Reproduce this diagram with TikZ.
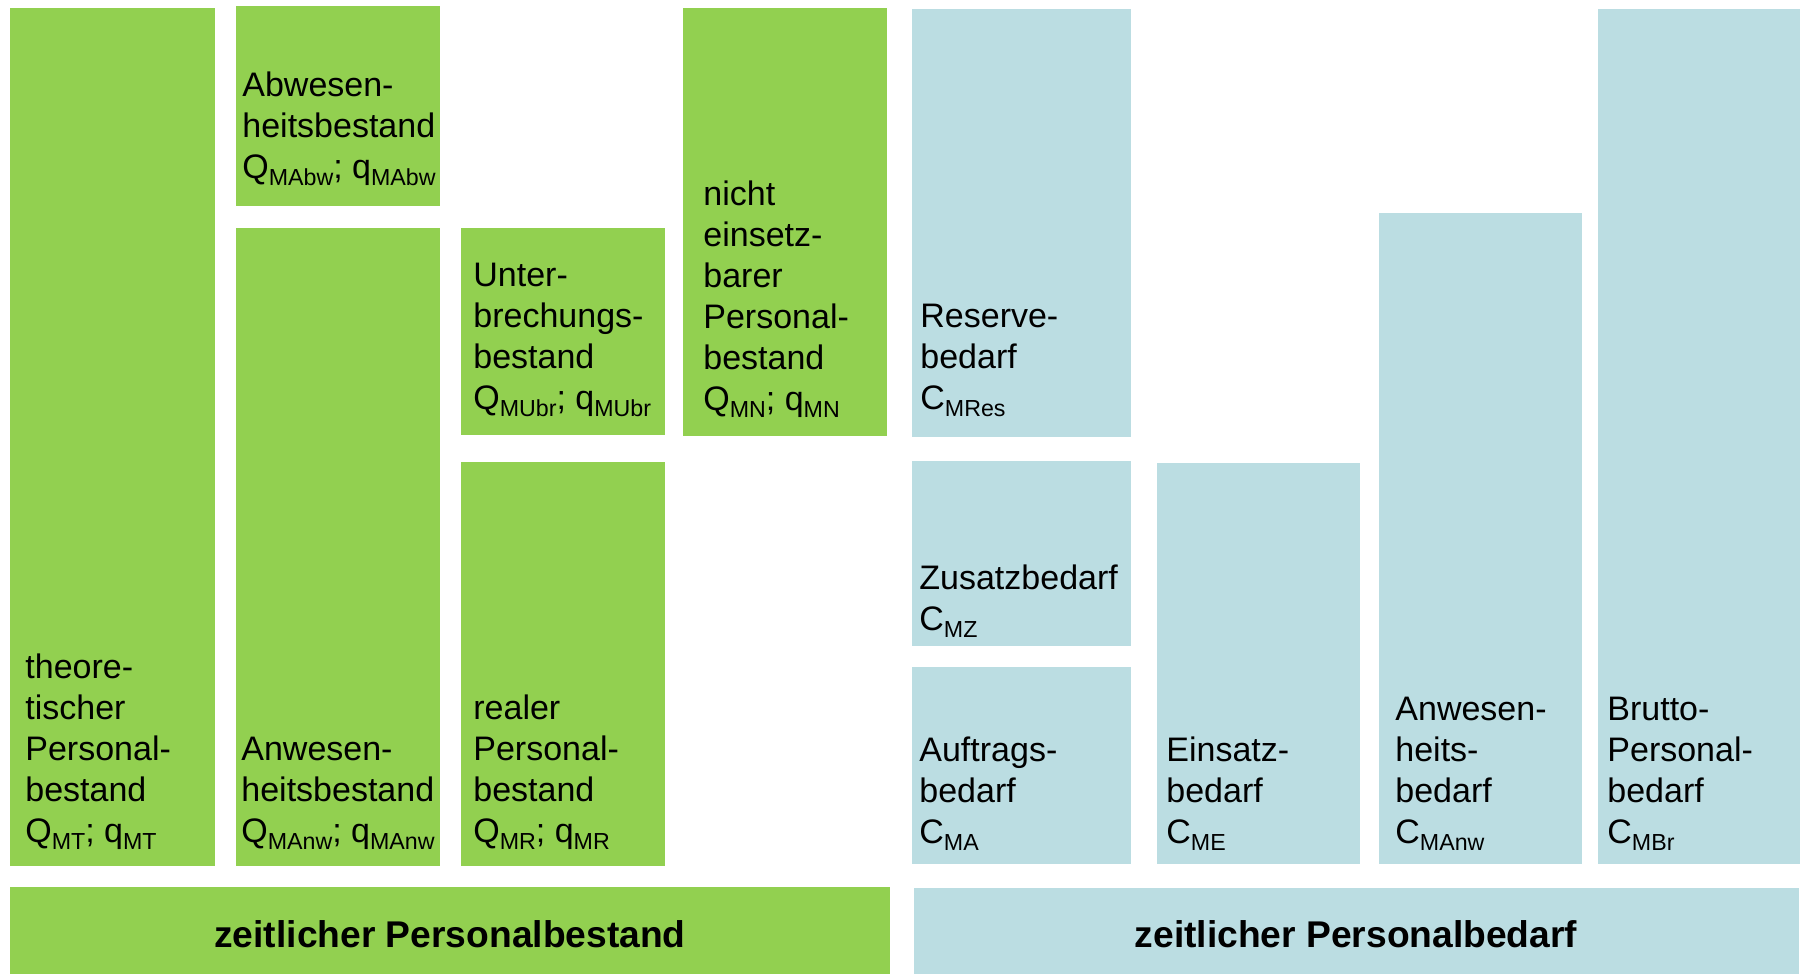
\documentclass[tikz,border=0pt]{standalone}
\usepackage{fontspec}
\setmainfont{Liberation Sans}
\definecolor{gruen}{RGB}{146,208,80}
\definecolor{blau}{RGB}{187,221,226}
\newcommand{\ix}[1]{\raisebox{-3.5pt}[0pt][4pt]{\fontsize{11.6}{11.6}\selectfont #1}}
\tikzset{
	lbl/.style={anchor=south west,inner sep=0pt,align=left,font=\fontsize{17}{20.5}\selectfont},
	summe/.style={anchor=base,inner sep=0pt,font=\fontsize{18.6}{20}\selectfont\bfseries}
}
\begin{document}
\begin{tikzpicture}[x=0.5pt,y=-0.5pt]
\useasboundingbox (0,0) rectangle (1802,974);
\foreach \xa/\ya/\xb/\yb in {10/8/215/866,236/6/440/206,236/228/440/866,461/228/665/435,461/462/665/866,683/8/887/436,10/887/890/974} {
	\fill[gruen] (\xa,\ya) rectangle (\xb,\yb);
}
\foreach \xa/\ya/\xb/\yb in {912/9/1131/437,912/461/1131/646,912/667/1131/864,1157/463/1360/864,1379/213/1582/864,1598/9/1800/864,914/888/1799/974} {
	\fill[blau] (\xa,\ya) rectangle (\xb,\yb);
}
\node[lbl] (mt) at (25,851) {theore-\\tischer\\Personal-\\bestand\\Q\ix{MT}; q\ix{MT}};
\node[lbl] (mabw) at (242,187) {Abwesen-\\heitsbestand\\Q\ix{MAbw}; q\ix{MAbw}};
\node[lbl] (manw) at (241,851) {Anwesen-\\heitsbestand\\Q\ix{MAnw}; q\ix{MAnw}};
\node[lbl] (mubr) at (473,418) {Unter-\\brechungs-\\bestand\\Q\ix{MUbr}; q\ix{MUbr}};
\node[lbl] (mr) at (473,851) {realer\\Personal-\\bestand\\Q\ix{MR}; q\ix{MR}};
\node[lbl] (mn) at (703,419) {nicht\\einsetz-\\barer\\Personal-\\bestand\\Q\ix{MN}; q\ix{MN}};
\node[lbl] (cmres) at (920,418) {Reserve-\\bedarf\\C\ix{MRes}};
\node[lbl] (cmz) at (919,639) {Zusatzbedarf\\C\ix{MZ}};
\node[lbl] (cma) at (919,852) {Auftrags-\\bedarf\\C\ix{MA}};
\node[lbl] (cme) at (1166,852) {Einsatz-\\bedarf\\C\ix{ME}};
\node[lbl] (cmanw) at (1395,852) {Anwesen-\\heits-\\bedarf\\C\ix{MAnw}};
\node[lbl] (cmbr) at (1607,852) {Brutto-\\Personal-\\bedarf\\C\ix{MBr}};
\node[summe] (bestand) at (450,947) {zeitlicher Personalbestand};
\node[summe] (bedarf) at (1356,947) {zeitlicher Personalbedarf};
\end{tikzpicture}
\end{document}
